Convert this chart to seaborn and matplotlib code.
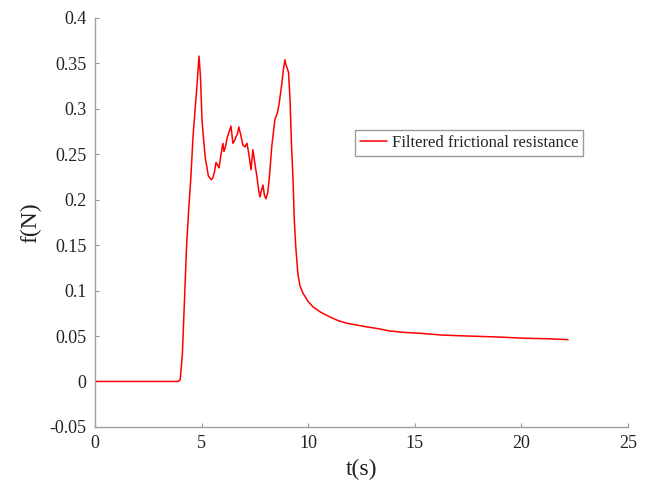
import matplotlib
matplotlib.use("Agg")
import matplotlib.pyplot as plt
import seaborn as sns

# time (s) and filtered frictional resistance (N)
t = [0, 1, 2, 3, 3.9, 4.0, 4.1, 4.2, 4.3, 4.4, 4.5, 4.6, 4.7, 4.8, 4.88, 4.95,
     5.02, 5.1, 5.18, 5.25, 5.32, 5.39, 5.46, 5.53, 5.6, 5.68, 5.75, 5.82, 5.9,
     6.0, 6.05, 6.12, 6.2, 6.3, 6.38, 6.47, 6.55, 6.61, 6.68, 6.75, 6.85, 6.94,
     7.03, 7.13, 7.22, 7.32, 7.41, 7.5, 7.6, 7.68, 7.74, 7.81, 7.88, 7.95, 8.02,
     8.11, 8.2, 8.3, 8.44, 8.55, 8.63, 8.75, 8.85, 8.91, 8.96, 9.0, 9.08, 9.15,
     9.22, 9.29, 9.35, 9.42, 9.52, 9.62, 9.76, 10.0, 10.23, 10.6, 11.02, 11.4,
     11.82, 12.3, 12.76, 13.3, 13.84, 14.5, 15.24, 16.3, 17.45, 18.8, 20.2,
     21.2, 22.19]
f = [0, 0, 0, 0, 0, 0.002, 0.03, 0.09, 0.15, 0.19, 0.225, 0.27, 0.30, 0.33,
     0.358, 0.335, 0.288, 0.265, 0.245, 0.236, 0.226, 0.224, 0.222, 0.224, 0.23,
     0.241, 0.238, 0.235, 0.248, 0.262, 0.253, 0.258, 0.268, 0.275, 0.281,
     0.262, 0.265, 0.269, 0.272, 0.280, 0.27, 0.260, 0.258, 0.262, 0.25, 0.233,
     0.255, 0.24, 0.225, 0.21, 0.203, 0.21, 0.216, 0.205, 0.201, 0.208, 0.23,
     0.26, 0.288, 0.295, 0.304, 0.325, 0.345, 0.354, 0.348, 0.346, 0.34, 0.31,
     0.26, 0.223, 0.178, 0.148, 0.118, 0.105, 0.097, 0.088, 0.082, 0.076,
     0.071, 0.067, 0.064, 0.062, 0.060, 0.058, 0.0555, 0.054, 0.053, 0.051,
     0.050, 0.049, 0.0475, 0.047, 0.046]

xticks = [0, 5, 10, 15, 20, 25]
yticks = [-0.05, 0, 0.05, 0.1, 0.15, 0.2, 0.25, 0.3, 0.35, 0.4]
ylabels = ["-0.05", "0", "0.05", "0.1", "0.15", "0.2", "0.25", "0.3", "0.35", "0.4"]

sns.set_style("ticks")
plt.rcParams["font.family"] = ["Liberation Serif", "DejaVu Serif"]

fig = plt.figure(figsize=(6.46, 4.84), dpi=100)
ax = fig.add_axes([0.147, 0.118, 0.825, 0.845])

sns.lineplot(x=t, y=f, ax=ax, color="red", linewidth=1.1, estimator=None,
             label="Filtered frictional resistance")

ax.set_xlim(0, 25)
ax.set_ylim(-0.05, 0.4)
ax.set_xticks(xticks)
ax.set_yticks(yticks)
ax.set_yticklabels(ylabels)
ax.tick_params(direction="in", length=3, color="#999999", labelsize=13,
               labelcolor="#222222", pad=6)
sns.despine(ax=ax)
for s in ["left", "bottom"]:
    ax.spines[s].set_color("#a0a0a0")
    ax.spines[s].set_linewidth(1.0)

ax.set_xlabel("t(s)", fontsize=17, color="#222222", labelpad=5)
ax.set_ylabel("f(N)", fontsize=17, color="#222222", labelpad=6)

leg = ax.legend(loc="upper left", bbox_to_anchor=(0.488, 0.726), borderaxespad=0,
                fontsize=12, fancybox=False, framealpha=1, handlelength=1.6,
                handletextpad=0.3, borderpad=0.3)
leg.get_frame().set_edgecolor("#999999")
leg.get_frame().set_linewidth(1.0)

fig.savefig("out.png", dpi=100)
